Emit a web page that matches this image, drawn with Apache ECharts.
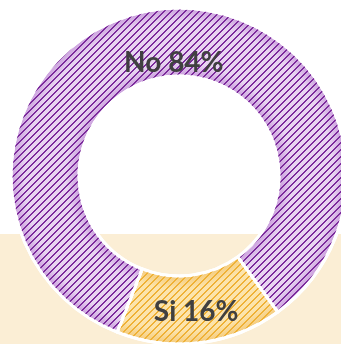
<!DOCTYPE html>
<html>
<head>
<meta charset="utf-8">
<script src="https://cdn.jsdelivr.net/npm/echarts@6/dist/echarts.min.js"></script>
<style>
  html, body { margin: 0; padding: 0; background: #ffffff; }
  #chart { width: 341px; height: 344px; }
</style>
</head>
<body>
<div id="chart"></div>
<script>
// Survey answers and their shares (percent)
var answers = ['Si', 'No'];
var shares = [16, 84];

// Per-slice palette: base shade, edge shade, stripe colour
var baseColors = ['#fce4ac', '#e8d4f1'];
var edgeColors = ['#f4cb7c', '#c99ddc'];
var stripeColors = ['#efb136', '#7c2b9c'];

var CX = 179, CY = 176, R_IN = 100, R_OUT = 168;

// Stepped diagonal stripe tile, two pixels wide, used as a repeating fill
function stripeTile(color) {
  var s = 7;
  var c = document.createElement('canvas');
  c.width = s; c.height = s;
  var g = c.getContext('2d');
  g.fillStyle = color;
  for (var y = 0; y < s; y++) {
    g.fillRect((s - 1 - y + s) % s, y, 1, 1);
    g.fillRect((s - y) % s, y, 1, 1);
  }
  return c;
}

// Ring shading: darker toward the inner and outer rims
function ringShade(base, edge) {
  var f = R_IN / R_OUT;
  return {
    type: 'radial', x: CX, y: CY, r: R_OUT, global: true,
    colorStops: [
      { offset: f, color: edge },
      { offset: f + 0.08, color: base },
      { offset: 0.92, color: base },
      { offset: 1, color: edge }
    ]
  };
}

var baseData = answers.map(function (a, i) {
  return { name: a, value: shares[i], itemStyle: { color: ringShade(baseColors[i], edgeColors[i]) } };
});

// Label text per slice; the leading blank line drops the "No" label toward the hole
var labelFormats = ['{b} {c}%', '\n{b} {c}%'];
var labelPads = [[0, 0, 0, 0], [0, 0, 0, 24]];
var labelHeights = [34, 46];
var stripeData = answers.map(function (a, i) {
  return {
    name: a, value: shares[i],
    itemStyle: { color: { image: stripeTile(stripeColors[i]), repeat: 'repeat' } },
    label: { formatter: labelFormats[i], padding: labelPads[i], lineHeight: labelHeights[i] }
  };
});

var common = {
  type: 'pie',
  center: [CX, CY],
  radius: [R_IN, R_OUT],
  startAngle: 306,
  clockwise: true,
  avoidLabelOverlap: false,
  silent: true,
  animation: false
};

var chart = echarts.init(document.getElementById('chart'), null, { renderer: 'canvas' });
chart.setOption({
  backgroundColor: '#ffffff',
  graphic: [{
    type: 'rect', z: -10,
    shape: { x: 0, y: 234, width: 341, height: 110 },
    style: { fill: '#fbeed5' }
  }],
  series: [
    Object.assign({}, common, {
      z: 2,
      data: baseData,
      label: { show: false },
      labelLine: { show: false },
      itemStyle: { borderColor: '#ffffff', borderWidth: 3 }
    }),
    Object.assign({}, common, {
      z: 3,
      data: stripeData,
      labelLine: { show: false },
      itemStyle: { borderColor: '#ffffff', borderWidth: 3 },
      label: {
        show: true,
        position: 'inside',
        fontFamily: 'Lato',
        fontWeight: 'bold',
        fontSize: 28,
        color: '#404040'
      }
    })
  ]
});
</script>
</body>
</html>
